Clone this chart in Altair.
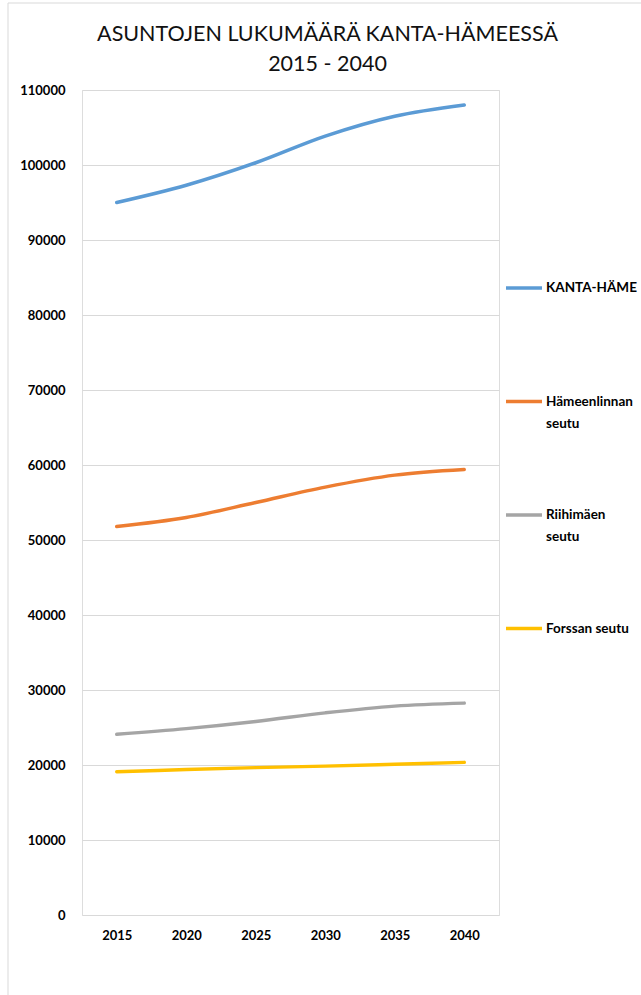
import altair as alt
import pandas as pd

years = ["2015", "2020", "2025", "2030", "2035", "2040"]
series = ["KANTA-HÄME", "Hämeenlinnan seutu", "Riihimäen seutu", "Forssan seutu"]
kanta_hame = [95000, 97300, 100300, 103850, 106500, 108000]
hameenlinnan_seutu = [51800, 53000, 55000, 57050, 58650, 59400]
riihimaen_seutu = [24100, 24850, 25800, 26950, 27850, 28250]
forssan_seutu = [19100, 19400, 19650, 19850, 20100, 20350]
colors = ["#5B9BD5", "#ED7D31", "#A5A5A5", "#FFC000"]
y_ticks = list(range(0, 110001, 10000))
title_lines = ["ASUNTOJEN LUKUMÄÄRÄ KANTA-HÄMEESSÄ", "2015 - 2040"]

rows = []
for name, vals in zip(series, [kanta_hame, hameenlinnan_seutu, riihimaen_seutu, forssan_seutu]):
    for yr, v in zip(years, vals):
        rows.append({"Vuosi": yr, "Alue": name, "Asuntoja": v})
df = pd.DataFrame(rows)

FONT = "Lato"

label_expr = (
    "datum.label == 'Hämeenlinnan seutu' ? ['Hämeenlinnan', 'seutu'] : "
    "datum.label == 'Riihimäen seutu' ? ['Riihimäen', 'seutu'] : [datum.label, '']"
)

lines = alt.Chart(df).mark_line(strokeWidth=3.5, interpolate="catmull-rom", strokeCap="round").encode(
    x=alt.X(
        "Vuosi:O",
        sort=years,
        scale=alt.Scale(type="point", padding=0.5),
        axis=alt.Axis(
            title=None, labelAngle=0, ticks=False, tickSize=0, domain=False, grid=False,
            labelPadding=14, labelFont=FONT, labelFontSize=13, labelFontWeight="bold",
            labelColor="#000000",
        ),
    ),
    y=alt.Y(
        "Asuntoja:Q",
        scale=alt.Scale(domain=[0, 110000], nice=False),
        axis=alt.Axis(
            values=y_ticks, format="d", title=None, ticks=False, tickSize=0, domain=False,
            gridColor="#d9d9d9", gridWidth=1, labelPadding=17, labelFont=FONT,
            labelFontSize=13, labelFontWeight="bold", labelColor="#000000",
        ),
    ),
    color=alt.Color(
        "Alue:N",
        sort=series,
        scale=alt.Scale(domain=series, range=colors),
        legend=alt.Legend(
            title=None, orient="none", legendX=422, legendY=178, symbolType="stroke",
            symbolSize=1296, symbolStrokeWidth=3.5, labelOffset=2, labelFont=FONT,
            labelFontSize=13.5, labelFontWeight="bold", labelColor="#000000", labelLimit=300,
            labelBaseline="middle", labelExpr=label_expr,
            rowPadding=64.5, padding=0,
        ),
    ),
)

frame = alt.Chart(pd.DataFrame({"k": [0]})).mark_rect(
    fillOpacity=0, stroke="#d9d9d9", strokeWidth=1
).encode(
    x=alt.value(-74), x2=alt.value(700), y=alt.value(-87), y2=alt.value(1000)
)

chart = alt.layer(frame, lines).properties(
    width=417,
    height=825,
    padding={"left": 82, "top": 90, "right": 142, "bottom": 80},
    autosize=alt.AutoSizeParams(type="none"),
    background="white",
    title=alt.TitleParams(
        title_lines, font=FONT, fontSize=21.5, fontWeight="normal", color="#111111",
        anchor="middle", dx=37, dy=73, offset=0, lineHeight=30,
    ),
).configure_view(strokeWidth=0).configure(style={"guide-label": {"lineHeight": 22}})

chart.save("out.html", embed_options={"renderer": "svg", "actions": False})
